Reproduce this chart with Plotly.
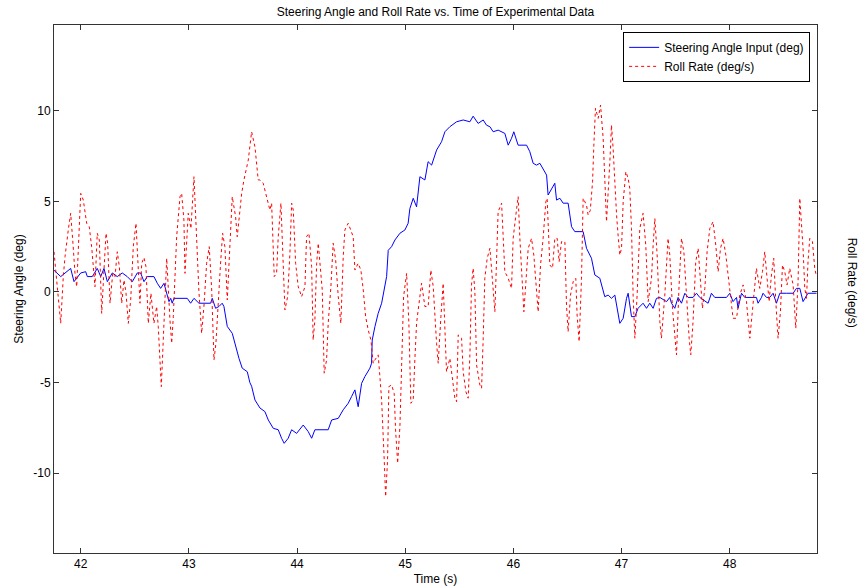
import plotly.graph_objects as go

# Steering angle input (deg) vs time (s)
steer_t = [41.753, 41.815, 41.907, 41.938, 42.000, 42.046, 42.061, 42.107, 42.153, 42.185,
           42.215, 42.246, 42.292, 42.338, 42.384, 42.430, 42.477, 42.523, 42.554, 42.585,
           42.615, 42.677, 42.708, 42.739, 42.770, 42.816, 42.832, 42.846, 42.862, 42.985,
           43.016, 43.047, 43.093, 43.201, 43.216, 43.247, 43.278, 43.308, 43.324, 43.355,
           43.401, 43.432, 43.463, 43.493, 43.540, 43.564, 43.580, 43.611, 43.657, 43.703,
           43.734, 43.780, 43.826, 43.857, 43.881, 43.918, 43.950, 43.996, 44.057, 44.103,
           44.135, 44.165, 44.288, 44.320, 44.381, 44.427, 44.473, 44.504, 44.535, 44.565,
           44.597, 44.627, 44.674, 44.689, 44.695, 44.720, 44.750, 44.782, 44.828, 44.843,
           44.874, 44.905, 44.951, 44.997, 45.027, 45.043, 45.074, 45.105, 45.136, 45.182,
           45.212, 45.244, 45.290, 45.336, 45.367, 45.413, 45.475, 45.536, 45.598, 45.628,
           45.674, 45.721, 45.752, 45.783, 45.813, 45.859, 45.891, 45.921, 45.952, 45.983,
           46.004, 46.029, 46.044, 46.122, 46.152, 46.183, 46.214, 46.245, 46.275, 46.307,
           46.321, 46.353, 46.383, 46.399, 46.430, 46.460, 46.506, 46.538, 46.568, 46.645,
           46.676, 46.722, 46.753, 46.799, 46.845, 46.876, 46.907, 46.938, 46.954, 46.984,
           47.015, 47.046, 47.061, 47.092, 47.123, 47.138, 47.153, 47.199, 47.231, 47.261,
           47.292, 47.323, 47.354, 47.416, 47.446, 47.462, 47.492, 47.523, 47.554, 47.585,
           47.615, 47.661, 47.693, 47.723, 47.800, 47.831, 47.862, 47.970, 48.001, 48.031,
           48.063, 48.077, 48.109, 48.139, 48.247, 48.262, 48.294, 48.308, 48.340, 48.370,
           48.401, 48.432, 48.463, 48.525, 48.586, 48.617, 48.648, 48.678, 48.724, 48.802]
steer_deg = [1.2, 0.85, 1.3, 0.57, 1.05, 1.12, 0.85, 0.85, 1.3, 0.85,
             1.3, 0.57, 1.05, 0.85, 1.05, 0.85, 0.57, 1.05, 1.05, 0.57,
             0.85, 0.85, 0.48, 0.2, 0.48, -0.53, -0.35, -0.62, -0.35, -0.35,
             -0.62, -0.35, -0.62, -0.62, -0.35, -0.9, -0.8, -0.62, -0.8, -1.9,
             -2.28, -3.0, -3.66, -4.2, -4.4, -5.0, -5.2, -5.96, -6.4, -6.6,
             -7.06, -7.52, -7.6, -8.07, -8.35, -8.07, -7.6, -7.8, -7.34, -7.7,
             -8.07, -7.6, -7.6, -7.06, -6.97, -6.5, -6.14, -5.77, -5.4, -6.33,
             -5.04, -4.67, -4.2, -3.93, -2.65, -1.91, -1.18, -0.62, 0.85, 2.3,
             2.5, 2.87, 3.24, 3.42, 3.79, 4.6, 5.17, 4.7, 6.36, 6.18,
             7.19, 7.0, 7.83, 8.29, 8.84, 9.12, 9.39, 9.49, 9.39, 9.7,
             9.3, 9.49, 9.2, 9.12, 8.84, 8.93, 8.84, 8.75, 8.1, 8.48,
             8.84, 8.29, 8.1, 8.1, 7.74, 7.1, 7.0, 7.1, 6.82, 6.45,
             5.35, 5.72, 6.0, 5.07, 5.17, 4.9, 4.9, 3.6, 3.33, 3.33,
             2.41, 1.86, 0.94, 0.76, -0.26, -0.17, -0.35, -0.17, -0.72, -1.73,
             -1.45, -0.35, -0.07, -1.36, -1.36, -1.09, -0.9, -0.62, -0.9, -0.62,
             -0.9, -0.35, -0.3, -0.53, -0.3, -0.62, -0.9, -0.3, -0.62, -0.07,
             -0.3, -0.3, -0.07, -0.3, -0.62, -0.07, -0.3, -0.3, -0.07, -0.53,
             -0.3, -0.9, -0.07, -0.3, -0.3, -0.62, -0.3, -0.07, -0.3, -0.3,
             -0.07, -0.62, -0.07, -0.07, -0.07, 0.2, 0.2, -0.53, -0.07, -0.07]

# Roll rate (deg/s) vs time (s)
roll_t = [41.753, 41.793, 41.815, 41.839, 41.855, 41.885, 41.907, 41.926, 41.947, 41.963,
          41.978, 42.000, 42.024, 42.055, 42.079, 42.101, 42.132, 42.153, 42.172, 42.194,
          42.215, 42.234, 42.249, 42.271, 42.296, 42.317, 42.338, 42.357, 42.379, 42.400,
          42.418, 42.440, 42.462, 42.486, 42.511, 42.532, 42.548, 42.564, 42.585, 42.603,
          42.625, 42.649, 42.677, 42.702, 42.717, 42.745, 42.765, 42.795, 42.825, 42.841,
          42.856, 42.887, 42.918, 42.933, 42.954, 42.964, 42.994, 43.019, 43.047, 43.072,
          43.093, 43.118, 43.139, 43.164, 43.188, 43.211, 43.232, 43.250, 43.271, 43.292,
          43.312, 43.333, 43.355, 43.375, 43.401, 43.432, 43.447, 43.466, 43.488, 43.509,
          43.549, 43.580, 43.611, 43.641, 43.657, 43.687, 43.719, 43.749, 43.765, 43.789,
          43.811, 43.826, 43.851, 43.888, 43.913, 43.934, 43.950, 43.965, 43.987, 44.011,
          44.042, 44.073, 44.088, 44.110, 44.135, 44.149, 44.165, 44.181, 44.196, 44.221,
          44.233, 44.251, 44.273, 44.288, 44.313, 44.334, 44.357, 44.381, 44.405, 44.427,
          44.442, 44.473, 44.498, 44.519, 44.535, 44.565, 44.590, 44.612, 44.634, 44.658,
          44.683, 44.704, 44.720, 44.750, 44.766, 44.782, 44.806, 44.819, 44.837, 44.849,
          44.874, 44.898, 44.911, 44.930, 44.951, 44.966, 44.985, 45.013, 45.034, 45.052,
          45.074, 45.089, 45.105, 45.120, 45.151, 45.182, 45.212, 45.237, 45.259, 45.290,
          45.305, 45.330, 45.351, 45.382, 45.413, 45.459, 45.475, 45.490, 45.521, 45.536,
          45.561, 45.582, 45.598, 45.613, 45.628, 45.644, 45.660, 45.690, 45.706, 45.721,
          45.736, 45.758, 45.783, 45.798, 45.829, 45.859, 45.891, 45.921, 45.952, 45.983,
          45.998, 46.023, 46.044, 46.060, 46.085, 46.097, 46.137, 46.168, 46.189, 46.214,
          46.229, 46.251, 46.275, 46.300, 46.312, 46.337, 46.362, 46.383, 46.405, 46.423,
          46.445, 46.476, 46.491, 46.506, 46.528, 46.553, 46.577, 46.589, 46.608, 46.630,
          46.645, 46.676, 46.691, 46.711, 46.732, 46.744, 46.759, 46.784, 46.806, 46.830,
          46.861, 46.892, 46.907, 46.922, 46.938, 46.954, 46.968, 46.984, 47.000, 47.015,
          47.040, 47.061, 47.076, 47.092, 47.107, 47.123, 47.144, 47.169, 47.199, 47.224,
          47.246, 47.277, 47.292, 47.308, 47.329, 47.354, 47.369, 47.400, 47.430, 47.446,
          47.471, 47.492, 47.508, 47.532, 47.554, 47.576, 47.600, 47.625, 47.640, 47.661,
          47.686, 47.708, 47.730, 47.748, 47.770, 47.791, 47.816, 47.846, 47.871, 47.893,
          47.915, 47.939, 47.964, 47.985, 48.007, 48.031, 48.063, 48.093, 48.124, 48.155,
          48.186, 48.216, 48.247, 48.278, 48.303, 48.324, 48.340, 48.364, 48.386, 48.407,
          48.426, 48.447, 48.469, 48.488, 48.509, 48.530, 48.555, 48.586, 48.611, 48.632,
          48.648, 48.664, 48.678, 48.694, 48.710, 48.724, 48.740, 48.765, 48.786, 48.802]
roll_rate = [2.22, -0.26, -1.73, 0.85, 1.95, 3.42, 4.34, 2.87, 1.03, 0.29,
             2.5, 5.44, 5.07, 3.79, 3.6, 2.5, 0.29, 3.24, 2.87, -1.18,
             1.21, 3.24, 2.69, -0.62, 1.03, 0.85, 2.22, 1.4, -0.62, 0.66,
             0.0, -1.73, -0.44, 2.5, 3.79, 1.58, -0.62, 1.58, 1.9, 1.4,
             -1.73, -0.07, -1.73, -0.8, -1.91, -5.22, -2.5, 1.86, -1.54, -2.83,
             -1.36, 3.05, 5.26, 5.44, 3.97, 1.03, 4.34, 3.5, 6.36, 2.5,
             0.0, -2.28, -0.8, 1.58, 2.5, 0.11, -3.75, -2.83, -0.44, 1.5,
             3.24, 2.5, -0.44, 2.0, 5.26, 4.15, 3.05, 4.15, 5.44, 6.18,
             7.28, 8.84, 8.0, 6.18, 6.18, 6.0, 5.26, 4.52, 4.9, 0.85,
             1.03, 3.05, 4.9, -0.99, -0.26, 2.13, 4.9, 4.52, 1.58, 0.29,
             -0.26, 0.29, 3.05, 3.24, 1.4, -2.65, -1.54, 1.58, 2.69, 1.21,
             0.11, -4.48, -3.75, -1.73, 0.29, 2.69, 1.77, -0.26, -1.73, 1.95,
             3.42, 3.79, 3.42, 3.05, 1.21, 1.58, 1.21, 0.11, -1.36, -2.1,
             -2.65, -3.93, -3.75, -3.47, -4.67, -5.96, -9.27, -11.29, -9.27, -5.22,
             -5.13, -5.59, -7.61, -9.45, -7.43, -3.75, -0.26, 1.03, -1.73, -6.14,
             -5.96, -3.75, -1.73, -0.99, 0.48, -0.8, -0.8, 1.21, 0.29, -2.83,
             -3.93, -1.36, 0.48, -4.4, -3.66, -5.86, -6.05, -2.37, -2.55, -4.4,
             -5.5, -5.86, -3.47, 0.39, 1.31, 0.02, -4.03, -5.13, -5.31, -2.55,
             0.76, 1.86, 2.41, 1.31, -1.09, 4.43, 4.9, 1.12, 0.76, 0.2,
             2.96, 4.25, 5.26, 2.96, 0.2, -1.09, 2.41, 2.96, 2.04, 0.02,
             -1.09, 1.49, 2.96, 4.98, 5.17, 1.49, 1.31, 2.96, 2.96, 1.67,
             2.78, 2.78, -0.72, -2.19, -0.17, 0.57, 0.76, -1.27, -2.74, 0.76,
             5.17, 4.8, 4.25, 4.5, 6.08, 8.1, 10.13, 9.58, 10.31, 8.48,
             3.88, 7.19, 9.21, 7.93, 5.72, 4.25, 3.14, 2.04, 2.41, 4.98,
             6.64, 6.27, 5.72, 3.51, -0.17, -2.55, -0.17, 3.51, 4.34, 2.59,
             -0.53, 0.76, 2.59, 4.06, 2.04, -1.64, -2.55, -0.17, 2.96, 2.04,
             -0.9, -2.37, -3.47, 0.39, 2.96, 2.22, -0.17, -2.55, -3.47, -1.64,
             1.67, 2.41, 0.57, -0.9, 0.2, 2.22, 3.51, 3.88, 2.59, 1.12,
             2.41, 2.96, 2.04, 0.94, -0.35, -1.45, -1.45, -0.17, 0.39, -0.53,
             -2.55, -0.53, 1.31, 0.2, 1.12, 2.22, 0.94, -0.53, 0.94, 1.86,
             -0.53, -2.55, -1.09, 1.49, 1.12, 0.39, 1.31, 0.39, -2.0, 0.57,
             5.17, 3.88, 2.41, 0.2, -0.35, 1.67, 2.96, 2.78, 1.31, 0.85]

x_ticks = [42, 43, 44, 45, 46, 47, 48]
x_tick_labels = ["42", "43", "44", "45", "46", "47", "48"]
y_ticks = [-10, -5, 0, 5, 10]
y_tick_labels = ["-10", "-5", "0", "5", "10"]

FONT = "Liberation Sans, Arial, Helvetica, sans-serif"

fig = go.Figure()
fig.add_trace(go.Scatter(x=steer_t, y=steer_deg, mode="lines",
                         name="Steering Angle Input (deg)",
                         line=dict(color="#0000ff", width=1)))
fig.add_trace(go.Scatter(x=roll_t, y=roll_rate, mode="lines",
                         name="Roll Rate (deg/s)",
                         line=dict(color="#ff0000", width=1, dash="dot")))

axis_common = dict(showline=True, linecolor="#333333", linewidth=1, mirror="ticks",
                   ticks="inside", ticklen=5, tickcolor="#333333", showgrid=False,
                   zeroline=False, automargin=False,
                   tickfont=dict(family=FONT, size=12, color="#000000"))

fig.update_layout(
    width=864, height=587,
    paper_bgcolor="#ffffff", plot_bgcolor="#ffffff",
    margin=dict(l=54, r=47, t=25, b=34),
    font=dict(family=FONT, size=12, color="#000000"),
    title=dict(text="Steering Angle and Roll Rate vs. Time of Experimental Data",
               x=0.5, xref="paper", y=1 - 12/587, yanchor="middle",
               font=dict(family=FONT, size=12, color="#000000")),
    xaxis=dict(range=[41.753, 48.807], tickvals=x_ticks, ticktext=x_tick_labels,
               title=dict(text="Time (s)", standoff=4, font=dict(family=FONT, size=12)),
               **axis_common),
    yaxis=dict(range=[-14.40, 14.73], tickvals=y_ticks, ticktext=y_tick_labels,
               title=dict(text="Steering Angle (deg)", standoff=7, font=dict(family=FONT, size=12)),
               **axis_common),
    legend=dict(x=0.991, y=0.987, xanchor="right", yanchor="top",
                bgcolor="#ffffff", bordercolor="#000000", borderwidth=1,
                font=dict(family=FONT, size=12), itemwidth=30,
                tracegroupgap=0),
    showlegend=True,
)

fig.add_annotation(text="Roll Rate (deg/s)", xref="paper", yref="paper",
                   x=1.0459, y=0.512, xanchor="center", yanchor="middle",
                   textangle=90, showarrow=False,
                   font=dict(family=FONT, size=12, color="#000000"))

fig.write_html("out.html", config={"displayModeBar": False},
               post_script="document.body.style.margin='0';document.body.style.overflow='hidden';")
